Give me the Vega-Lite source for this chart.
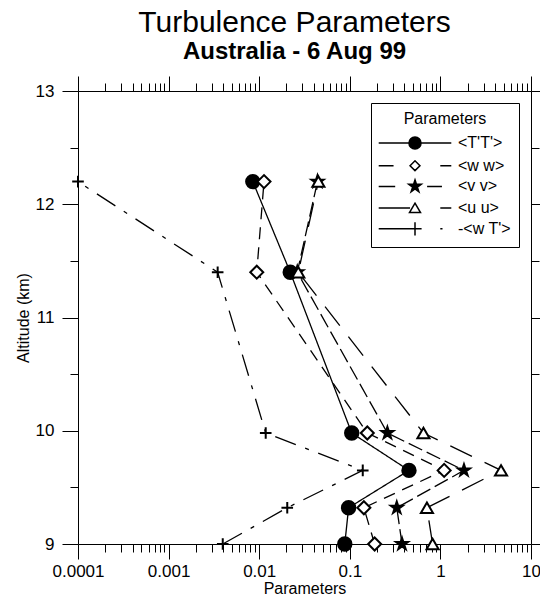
{
  "$schema": "https://vega.github.io/schema/vega-lite/v6.json",
  "width": 453,
  "height": 453,
  "autosize": "none",
  "padding": {"left": 78, "top": 91, "right": 9, "bottom": 61},
  "background": "white",
  "config": {
    "font": "Liberation Sans",
    "view": {"stroke": null},
    "axis": {"grid": false, "domainColor": "black", "tickColor": "black", "labelColor": "black", "titleColor": "black", "labelFont": "Liberation Sans", "titleFont": "Liberation Sans"}
  },
  "title": {
    "text": "Turbulence Parameters",
    "subtitle": "Australia - 6 Aug 99",
    "fontSize": 30,
    "fontWeight": "normal",
    "color": "black",
    "subtitleFontSize": 24,
    "subtitleFontWeight": "bold",
    "subtitleColor": "black",
    "subtitlePadding": 2,
    "anchor": "middle",
    "dx": -10,
    "offset": 12
  },
  "data": {
    "values": [
      {"series": "<T'T'>", "x": 0.0085, "alt": 12.2},
      {"series": "<T'T'>", "x": 0.022, "alt": 11.4},
      {"series": "<T'T'>", "x": 0.105, "alt": 9.98},
      {"series": "<T'T'>", "x": 0.45, "alt": 9.65},
      {"series": "<T'T'>", "x": 0.097, "alt": 9.32},
      {"series": "<T'T'>", "x": 0.088, "alt": 9.0},
      {"series": "<w w>", "x": 0.0113, "alt": 12.2},
      {"series": "<w w>", "x": 0.0094, "alt": 11.4},
      {"series": "<w w>", "x": 0.156, "alt": 9.98},
      {"series": "<w w>", "x": 1.1, "alt": 9.65},
      {"series": "<w w>", "x": 0.143, "alt": 9.32},
      {"series": "<w w>", "x": 0.188, "alt": 9.0},
      {"series": "<v v>", "x": 0.044, "alt": 12.2},
      {"series": "<v v>", "x": 0.0263, "alt": 11.4},
      {"series": "<v v>", "x": 0.26, "alt": 9.98},
      {"series": "<v v>", "x": 1.82, "alt": 9.65},
      {"series": "<v v>", "x": 0.33, "alt": 9.32},
      {"series": "<v v>", "x": 0.377, "alt": 9.0},
      {"series": "<u u>", "x": 0.045, "alt": 12.2},
      {"series": "<u u>", "x": 0.027, "alt": 11.4},
      {"series": "<u u>", "x": 0.65, "alt": 9.98},
      {"series": "<u u>", "x": 4.67, "alt": 9.65},
      {"series": "<u u>", "x": 0.71, "alt": 9.32},
      {"series": "<u u>", "x": 0.82, "alt": 9.0},
      {"series": "-<w T'>", "x": 0.0001, "alt": 12.2},
      {"series": "-<w T'>", "x": 0.00348, "alt": 11.4},
      {"series": "-<w T'>", "x": 0.0118, "alt": 9.98},
      {"series": "-<w T'>", "x": 0.139, "alt": 9.65},
      {"series": "-<w T'>", "x": 0.0204, "alt": 9.32},
      {"series": "-<w T'>", "x": 0.00396, "alt": 9.0}
    ]
  },
  "layer": [
    {
      "mark": {"type": "line", "stroke": "black", "strokeWidth": 1.3},
      "encoding": {
        "x": {
          "field": "x", "type": "quantitative",
          "scale": {"type": "log", "domain": [0.0001, 10], "nice": false},
          "axis": {
            "orient": "bottom",
            "values": [0.0001,0.0002,0.0003,0.0004,0.0005,0.0006,0.0007,0.0008,0.0009,0.001,0.002,0.003,0.004,0.005,0.006,0.007,0.008,0.009,0.01,0.02,0.03,0.04,0.05,0.06,0.07,0.08,0.09,0.1,0.2,0.3,0.4,0.5,0.6,0.7,0.8,0.9,1,2,3,4,5,6,7,8,9,10],
            "labelExpr": "datum.value == 0.0001 ? '0.0001' : datum.value == 0.001 ? '0.001' : datum.value == 0.01 ? '0.01' : datum.value == 0.1 ? '0.1' : datum.value == 1 ? '1' : datum.value == 10 ? '10' : ''",
            "tickSize": {"condition": {"test": "abs(log(datum.value)/LN10 - round(log(datum.value)/LN10)) < 0.001", "value": 15}, "value": 8},
            "labelFontSize": 17,
            "labelPadding": 4,
            "labelOverlap": false,
            "labelFlush": false,
            "title": "Parameters",
            "titleFontSize": 16,
            "titleFontWeight": "normal",
            "titlePadding": 1
          }
        },
        "y": {
          "field": "alt", "type": "quantitative",
          "scale": {"domain": [9, 13], "zero": false, "nice": false},
          "axis": {
            "orient": "left",
            "values": [9,9.5,10,10.5,11,11.5,12,12.5,13],
            "labelExpr": "datum.value % 1 == 0 ? format(datum.value, 'd') : ''",
            "tickSize": {"condition": {"test": "datum.value % 1 == 0", "value": 16}, "value": 8},
            "labelFontSize": 17,
            "labelPadding": 8,
            "labelOverlap": false,
            "labelFlush": false,
            "title": "Altitude (km)",
            "titleFontSize": 16,
            "titleFontWeight": "normal",
            "titlePadding": 4
          }
        },
        "order": {"field": "alt", "type": "quantitative"},
        "strokeDash": {
          "field": "series", "type": "nominal",
          "scale": {"domain": ["<T'T'>", "<w w>", "<v v>", "<u u>", "-<w T'>"], "range": [[1, 0], [12, 8], [15, 5], [24, 14], [22, 10, 4, 10]]},
          "legend": null
        }
      }
    },
    {
      "mark": {"type": "point", "filled": true, "stroke": "black", "strokeWidth": 2, "opacity": 1},
      "encoding": {
        "x": {"field": "x", "type": "quantitative", "axis": null},
        "y": {"field": "alt", "type": "quantitative", "axis": null},
        "shape": {
          "field": "series", "type": "nominal",
          "scale": {"domain": ["<T'T'>", "<w w>", "<v v>", "<u u>", "-<w T'>"], "range": ["circle", "diamond", "M0,-1L0.2245,-0.309L0.951,-0.309L0.3633,0.118L0.588,0.809L0,0.382L-0.588,0.809L-0.3633,0.118L-0.951,-0.309L-0.2245,-0.309Z", "triangle-up", "M-1,0H1M0,-1V1"]},
          "legend": null
        },
        "fill": {
          "field": "series", "type": "nominal",
          "scale": {"domain": ["<T'T'>", "<w w>", "<v v>", "<u u>", "-<w T'>"], "range": ["black", "white", "black", "white", "transparent"]},
          "legend": null
        },
        "size": {
          "field": "series", "type": "nominal",
          "scale": {"domain": ["<T'T'>", "<w w>", "<v v>", "<u u>", "-<w T'>"], "range": [180, 135, 240, 160, 270]},
          "legend": null
        }
      }
    },
    {
      "transform": [{"filter": "false"}],
      "mark": {"type": "point", "filled": false, "strokeWidth": 1.5, "size": 484, "opacity": 1},
      "encoding": {
        "x": {
          "field": "x", "type": "quantitative",
          "axis": {
            "orient": "top",
            "values": [0.0001,0.0002,0.0003,0.0004,0.0005,0.0006,0.0007,0.0008,0.0009,0.001,0.002,0.003,0.004,0.005,0.006,0.007,0.008,0.009,0.01,0.02,0.03,0.04,0.05,0.06,0.07,0.08,0.09,0.1,0.2,0.3,0.4,0.5,0.6,0.7,0.8,0.9,1,2,3,4,5,6,7,8,9,10],
            "labels": false,
            "title": null,
            "tickSize": {"condition": {"test": "abs(log(datum.value)/LN10 - round(log(datum.value)/LN10)) < 0.001", "value": 15}, "value": 8}
          }
        },
        "y": {
          "field": "alt", "type": "quantitative",
          "axis": {
            "orient": "right",
            "values": [9,9.5,10,10.5,11,11.5,12,12.5,13],
            "labels": false,
            "title": null,
            "tickSize": {"condition": {"test": "datum.value % 1 == 0", "value": 16}, "value": 8}
          }
        },
        "shape": {
          "field": "series", "type": "nominal",
          "scale": {"domain": ["<T'T'>", "<w w>", "<v v>", "<u u>", "-<w T'>"], "range": [
            "M-3.3,0H3.3M-0.55,0A0.55,0.55 0 1,1 0.55,0A0.55,0.55 0 1,1 -0.55,0Z",
            "M-3.3,0H-1.95M2.3,0H3.3M-0.45,0L0,-0.45L0.45,0L0,0.45Z",
            "M-3.3,0H-1.8M1.1,0H2.45M0,-0.6L0.135,-0.185L0.57,-0.185L0.218,0.07L0.353,0.485L0,0.23L-0.353,0.485L-0.218,0.07L-0.57,-0.185L-0.135,-0.185Z",
            "M-3.3,0H-0.45M2.3,0H3.3M0,-0.45L0.5,0.4L-0.5,0.4Z",
            "M-3.3,0H-0.6M2.3,0H2.5M-0.6,0H0.6M0,-0.6V0.6"
          ]},
          "legend": {
            "title": "Parameters", "orient": "top-right", "offset": 12,
            "strokeColor": "black", "fillColor": "white", "padding": 8,
            "titleAnchor": "middle", "titleFontSize": 16, "titleFontWeight": "normal", "titleColor": "black", "titlePadding": 4,
            "labelFontSize": 16, "labelColor": "black", "labelOffset": 31, "symbolOffset": 24,
            "symbolSize": 484, "symbolStrokeWidth": 1.5, "rowPadding": 0.7
          }
        },
        "fill": {
          "field": "series", "type": "nominal",
          "scale": {"domain": ["<T'T'>", "<w w>", "<v v>", "<u u>", "-<w T'>"], "range": ["black", "white", "black", "white", "transparent"]},
          "legend": {
            "title": "Parameters", "orient": "top-right", "offset": 12,
            "strokeColor": "black", "fillColor": "white", "padding": 8,
            "titleAnchor": "middle", "titleFontSize": 16, "titleFontWeight": "normal", "titleColor": "black", "titlePadding": 4,
            "labelFontSize": 16, "labelColor": "black", "labelOffset": 31, "symbolOffset": 24,
            "symbolSize": 484, "symbolStrokeWidth": 1.5, "rowPadding": 0.7
          }
        },
        "stroke": {
          "field": "series", "type": "nominal",
          "scale": {"domain": ["<T'T'>", "<w w>", "<v v>", "<u u>", "-<w T'>"], "range": ["black", "black", "black", "black", "black"]},
          "legend": {
            "title": "Parameters", "orient": "top-right", "offset": 12,
            "strokeColor": "black", "fillColor": "white", "padding": 8,
            "titleAnchor": "middle", "titleFontSize": 16, "titleFontWeight": "normal", "titleColor": "black", "titlePadding": 4,
            "labelFontSize": 16, "labelColor": "black", "labelOffset": 31, "symbolOffset": 24,
            "symbolSize": 484, "symbolStrokeWidth": 1.5, "rowPadding": 0.7
          }
        }
      }
    }
  ],
  "resolve": {
    "scale": {"shape": "independent", "fill": "independent", "size": "independent", "stroke": "independent"},
    "axis": {"x": "independent", "y": "independent"}
  }
}
